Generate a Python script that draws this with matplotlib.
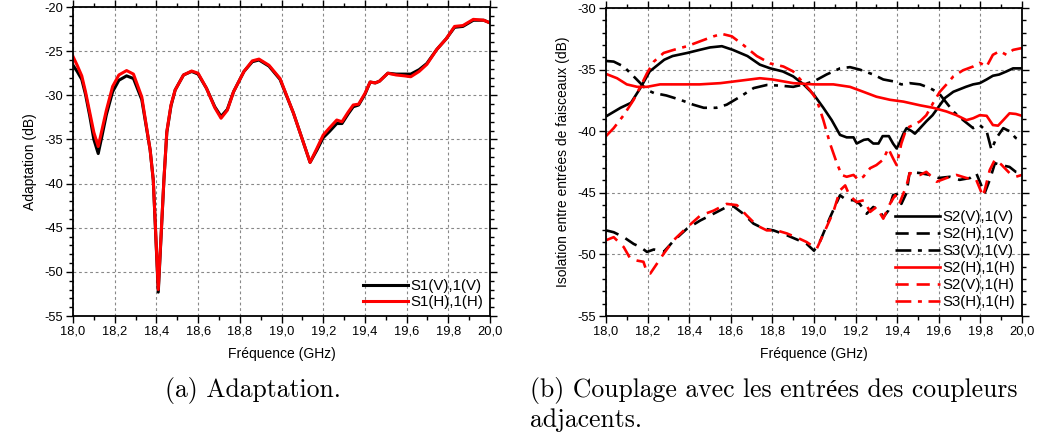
import matplotlib
matplotlib.use("Agg")
import matplotlib.pyplot as plt
from matplotlib.ticker import MultipleLocator, FuncFormatter

# ---------------- data: left plot (Adaptation) ----------------
f_s11v = [18.0, 18.02, 18.042, 18.06, 18.08, 18.10, 18.121, 18.14, 18.16, 18.19, 18.22, 18.257,
          18.29, 18.33, 18.37, 18.385, 18.409, 18.436, 18.45, 18.47, 18.49, 18.53, 18.569,
          18.60, 18.64, 18.68, 18.71, 18.74, 18.77, 18.82, 18.86, 18.892, 18.94, 18.993,
          19.057, 19.10, 19.137, 19.17, 19.2, 19.23, 19.265, 19.29, 19.32, 19.344, 19.37,
          19.40, 19.425, 19.45, 19.47, 19.51, 19.55, 19.59, 19.62, 19.66, 19.697, 19.745,
          19.79, 19.83, 19.87, 19.92, 19.97, 20.0]
s11v = [-26.6, -27.3, -28.2, -29.9, -32.3, -35.0, -36.6, -34.5, -32.2, -29.6, -28.3, -27.8,
        -28.1, -30.5, -36.2, -39.6, -52.3, -39.6, -34.2, -31.2, -29.4, -27.7, -27.3,
        -27.6, -29.2, -31.3, -32.4, -31.6, -29.6, -27.3, -26.2, -26.0, -26.7, -28.2,
        -32.0, -35.0, -37.6, -36.2, -34.8, -34.1, -33.2, -33.2, -32.1, -31.3, -31.1,
        -29.9, -28.5, -28.6, -28.4, -27.5, -27.6, -27.6, -27.6, -27.1, -26.4, -24.8,
        -23.6, -22.3, -22.2, -21.5, -21.5, -21.8]
f_s11h = f_s11v
s11h = [-25.6, -26.6, -27.8, -29.6, -31.9, -34.2, -35.8, -33.8, -31.7, -29.0, -27.7, -27.2,
        -27.6, -30.2, -36.2, -39.6, -52.0, -39.6, -34.1, -31.1, -29.4, -27.7, -27.25,
        -27.5, -29.2, -31.4, -32.6, -31.7, -29.6, -27.3, -26.1, -25.9, -26.6, -28.1,
        -32.0, -35.0, -37.6, -36.0, -34.5, -33.7, -32.8, -33.0, -31.9, -31.1, -31.0,
        -29.8, -28.5, -28.6, -28.4, -27.5, -27.7, -27.8, -27.9, -27.3, -26.5, -24.8,
        -23.6, -22.2, -22.1, -21.4, -21.5, -21.8]

# ---------------- data: right plot (Isolation) ----------------
f_s2v1v = [18.0, 18.07, 18.12, 18.165, 18.21, 18.28, 18.32, 18.39, 18.45, 18.5, 18.557, 18.61,
           18.68, 18.74, 18.79, 18.85, 18.9, 18.95, 19.0, 19.045, 19.085, 19.125, 19.157,
           19.19, 19.205, 19.24, 19.26, 19.285, 19.31, 19.33, 19.36, 19.38, 19.397, 19.41,
           19.43, 19.445, 19.47, 19.485, 19.51, 19.54, 19.57, 19.6, 19.63, 19.67, 19.7,
           19.73, 19.765, 19.797, 19.83, 19.86, 19.89, 19.925, 19.957, 20.0]
s2v1v = [-38.8, -38.1, -37.7, -36.5, -35.15, -34.2, -33.9, -33.65, -33.4, -33.2, -33.1, -33.4,
         -33.9, -34.6, -34.9, -35.15, -35.55, -36.2, -37.05, -38.1, -39.1, -40.3, -40.5,
         -40.5, -41.0, -40.7, -40.65, -41.0, -41.0, -40.4, -40.4, -41.0, -41.4, -41.0,
         -40.2, -39.75, -40.0, -40.2, -39.75, -39.2, -38.7, -38.0, -37.3, -36.8, -36.6,
         -36.4, -36.2, -36.1, -35.8, -35.5, -35.4, -35.15, -34.9, -34.9]

f_s2h1v = [18.0, 18.037, 18.085, 18.133, 18.165, 18.197, 18.23, 18.277, 18.325, 18.39, 18.453,
           18.517, 18.58, 18.613, 18.66, 18.709, 18.757, 18.805, 18.87, 18.933, 18.965, 19.0,
           19.03, 19.077, 19.125, 19.157, 19.19, 19.22, 19.253, 19.285, 19.317, 19.333, 19.357,
           19.38, 19.397, 19.42, 19.445, 19.46, 19.51, 19.557, 19.6, 19.653, 19.7, 19.75,
           19.78, 19.82, 19.845, 19.87, 19.9, 19.94, 19.97, 20.0]
s2h1v = [-48.05, -48.2, -48.6, -49.15, -49.4, -49.8, -49.6, -49.8, -48.9, -47.9, -47.25,
         -46.7, -46.15, -46.1, -46.7, -47.5, -47.9, -48.05, -48.45, -48.9, -49.15, -49.7,
         -48.9, -47.0, -45.2, -45.6, -45.6, -45.9, -46.7, -46.15, -46.45, -47.0, -46.45,
         -45.2, -45.1, -45.9, -45.0, -43.3, -43.4, -43.55, -43.8, -43.7, -43.95, -43.8,
         -43.4, -45.05, -43.95, -42.6, -42.75, -42.9, -43.3, -43.4]

f_s3v1v = [18.0, 18.037, 18.085, 18.133, 18.165, 18.197, 18.23, 18.29, 18.357, 18.42, 18.47,
           18.53, 18.58, 18.645, 18.71, 18.773, 18.837, 18.9, 18.95, 19.0, 19.06, 19.125,
           19.173, 19.22, 19.285, 19.333, 19.38, 19.42, 19.46, 19.51, 19.557, 19.6, 19.637,
           19.67, 19.717, 19.765, 19.797, 19.83, 19.853, 19.877, 19.91, 19.94, 19.97, 20.0]
s3v1v = [-34.3, -34.35, -34.75, -35.55, -36.1, -36.65, -36.9, -37.1, -37.45, -37.85, -38.1,
         -38.1, -37.85, -37.2, -36.5, -36.25, -36.3, -36.4, -36.2, -35.95, -35.4, -34.9,
         -34.8, -35.0, -35.4, -35.8, -35.95, -36.2, -36.1, -36.2, -36.5, -36.9, -37.7,
         -38.4, -39.1, -39.75, -39.5, -40.0, -41.5, -40.55, -39.75, -40.0, -40.55, -40.8]

f_s2h1h = [18.0, 18.053, 18.1, 18.15, 18.197, 18.26, 18.357, 18.45, 18.55, 18.645, 18.74,
           18.8, 18.9, 19.0, 19.093, 19.173, 19.237, 19.3, 19.365, 19.43, 19.51, 19.573,
           19.637, 19.685, 19.733, 19.765, 19.797, 19.83, 19.86, 19.885, 19.91, 19.94, 19.97, 20.0]
s2h1h = [-35.35, -35.7, -36.2, -36.4, -36.4, -36.2, -36.2, -36.2, -36.1, -35.9, -35.7,
         -35.8, -36.1, -36.2, -36.2, -36.4, -36.8, -37.2, -37.45, -37.6, -37.9, -38.1,
         -38.4, -38.7, -39.1, -38.95, -38.7, -38.75, -39.5, -39.55, -39.1, -38.55, -38.6, -38.75]

f_s2v1h = [18.0, 18.037, 18.085, 18.117, 18.149, 18.18, 18.197, 18.213, 18.245, 18.277, 18.325,
           18.39, 18.453, 18.517, 18.58, 18.629, 18.677, 18.725, 18.773, 18.82, 18.87, 18.933,
           18.965, 19.013, 19.06, 19.093, 19.125, 19.15, 19.17, 19.205, 19.24, 19.27, 19.3,
           19.333, 19.365, 19.39, 19.41, 19.445, 19.46, 19.51, 19.54, 19.59, 19.637, 19.685,
           19.733, 19.78, 19.813, 19.845, 19.87, 19.9, 19.94, 19.97, 20.0]
s2v1h = [-48.85, -48.6, -49.4, -50.35, -50.5, -50.6, -51.45, -51.55, -50.75, -49.95, -48.85,
         -47.8, -46.85, -46.45, -45.9, -46.0, -46.85, -47.65, -48.05, -48.05, -48.3, -48.75,
         -49.0, -49.55, -47.8, -46.55, -44.8, -44.4, -45.2, -45.75, -45.6, -46.55, -46.15,
         -47.1, -45.9, -45.2, -45.9, -44.4, -43.4, -43.55, -43.3, -44.1, -43.8, -43.55,
         -43.8, -43.95, -45.3, -43.15, -42.3, -42.7, -43.4, -43.7, -43.55]

f_s3h1h = [18.0, 18.037, 18.085, 18.133, 18.165, 18.197, 18.23, 18.277, 18.325, 18.39, 18.453,
           18.517, 18.557, 18.605, 18.66, 18.725, 18.79, 18.853, 18.9, 18.95, 18.98, 19.013,
           19.045, 19.077, 19.11, 19.133, 19.157, 19.19, 19.213, 19.237, 19.27, 19.3, 19.333,
           19.357, 19.38, 19.397, 19.42, 19.445, 19.477, 19.51, 19.54, 19.573, 19.605, 19.637,
           19.67, 19.717, 19.765, 19.797, 19.83, 19.86, 19.893, 19.925, 19.957, 20.0]
s3h1h = [-40.4, -39.75, -38.7, -37.45, -36.4, -35.3, -34.35, -33.65, -33.4, -33.1, -32.7,
         -32.3, -32.1, -32.3, -33.0, -33.9, -34.5, -34.75, -35.15, -36.1, -36.65, -37.45,
         -39.1, -41.0, -42.6, -43.55, -43.7, -43.55, -43.95, -43.7, -43.0, -42.75, -42.3,
         -41.4, -42.2, -42.75, -41.0, -39.75, -39.5, -39.2, -38.7, -37.7, -36.8, -36.2,
         -35.55, -35.05, -34.75, -34.45, -34.75, -33.8, -33.5, -33.8, -33.4, -33.25]

x_ticks = [18.0, 18.2, 18.4, 18.6, 18.8, 19.0, 19.2, 19.4, 19.6, 19.8, 20.0]

# ---------------- figure ----------------
plt.rcParams['font.family'] = ['Liberation Sans', 'DejaVu Sans']
fig = plt.figure(figsize=(10.42, 4.36), dpi=100)

axL = fig.add_axes([73/1042, 1-316/436, 417/1042, 309/436])
axR = fig.add_axes([606/1042, 1-316/436, 416/1042, 308/436])

comma = FuncFormatter(lambda v, p: f"{v:.1f}".replace('.', ','))
intfmt = FuncFormatter(lambda v, p: f"{v:.0f}")

def style(ax, ymin, ymax):
    ax.set_xlim(18.0, 20.0)
    ax.set_ylim(ymin, ymax)
    ax.set_xticks(x_ticks)
    ax.xaxis.set_major_formatter(comma)
    ax.xaxis.set_minor_locator(MultipleLocator(0.1))
    ax.yaxis.set_major_locator(MultipleLocator(5))
    ax.yaxis.set_minor_locator(MultipleLocator(1))
    ax.yaxis.set_major_formatter(intfmt)
    ax.grid(True, which='major', color='#888888', linestyle=(0, (2.5, 2.5)), linewidth=0.8)
    ax.tick_params(which='both', direction='out', top=True, right=True, labelsize=9.3, width=1,
                   pad=2)
    ax.tick_params(which='major', length=5)
    ax.tick_params(which='minor', length=3)
    for s in ax.spines.values():
        s.set_linewidth(1.3)
    ax.set_xlabel('Fréquence (GHz)', fontsize=10, labelpad=7)

style(axL, -55, -20)
axL.plot(f_s11v, s11v, color='black', lw=2.2, label='S1(V),1(V)')
axL.plot(f_s11h, s11h, color='#ff0000', lw=2.2, label='S1(H),1(H)')
axL.set_ylabel('Adaptation (dB)', fontsize=10, labelpad=5)
axL.legend(loc='lower right', frameon=False, fontsize=10.8, handlelength=3.0,
           handletextpad=0.15, labelspacing=0.12, borderaxespad=0.05)

style(axR, -55, -30)
dashed = (0, (5, 3))
dashdot = (0, (6, 2.5, 1.5, 2.5))
axR.plot(f_s2v1v, s2v1v, color='black', lw=1.9, label='S2(V),1(V)')
axR.plot(f_s2h1v, s2h1v, color='black', lw=1.9, linestyle=dashed, label='S2(H),1(V)')
axR.plot(f_s3v1v, s3v1v, color='black', lw=1.9, linestyle=dashdot, label='S3(V),1(V)')
axR.plot(f_s2h1h, s2h1h, color='#ff0000', lw=1.9, label='S2(H),1(H)')
axR.plot(f_s2v1h, s2v1h, color='#ff0000', lw=1.9, linestyle=dashed, label='S2(V),1(H)')
axR.plot(f_s3h1h, s3h1h, color='#ff0000', lw=1.9, linestyle=dashdot, label='S3(H),1(H)')
axR.set_ylabel('Isolation entre entrées de faisceaux (dB)', fontsize=10, labelpad=5)
axR.legend(loc='lower right', frameon=False, fontsize=10.8, handlelength=3.0,
           handletextpad=0.15, labelspacing=0.2, borderaxespad=0.05)

# captions
cap = dict(fontsize=18.5, family=['cmr10', 'Liberation Serif'], va='center', ha='left')
fig.text(165/1042, 1-390/436, '(a) Adaptation.', **cap)
fig.text(530/1042, 1-390/436, '(b) Couplage avec les entrées des coupleurs', **cap)
fig.text(530/1042, 1-420/436, 'adjacents.', **cap)

fig.savefig('out.png', dpi=100)
